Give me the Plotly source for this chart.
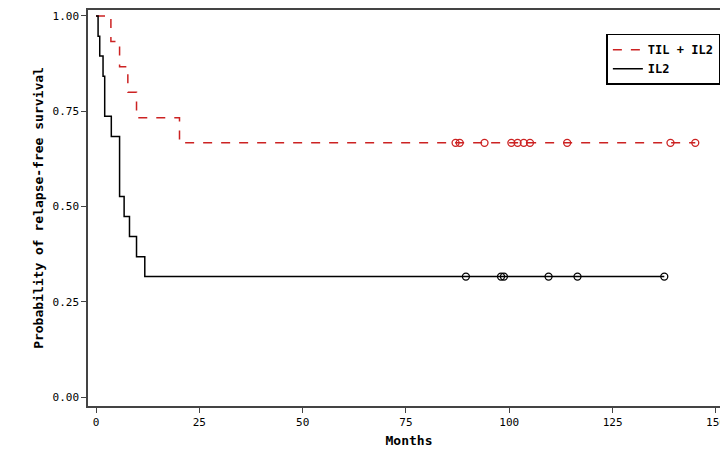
import plotly.graph_objects as go

# TIL + IL2 step curve
til_t = [0, 3.6, 5.7, 7.7, 9.8, 20.2, 145]
til_s = [1.0, 0.933, 0.867, 0.800, 0.733, 0.667, 0.667]
til_cens = [87, 88, 94, 100.5, 102, 103.5, 105, 114, 139, 145]

# IL2 step curve
il2_t = [0, 0.5, 0.9, 1.7, 2.1, 3.7, 5.7, 6.8, 8.1, 9.8, 11.8, 137.5]
il2_s = [1.0, 0.947, 0.895, 0.842, 0.737, 0.684, 0.526, 0.474, 0.421, 0.368, 0.316, 0.316]
il2_cens = [89.5, 98, 98.7, 109.5, 116.5, 137.5]

red = "#cc2222"
fig = go.Figure()
fig.add_trace(go.Scatter(x=til_t, y=til_s, mode="lines", line_shape="hv",
                         line=dict(color=red, dash="dash", width=1.5), name="<b>TIL + IL2</b>"))
fig.add_trace(go.Scatter(x=il2_t, y=il2_s, mode="lines", line_shape="hv",
                         line=dict(color="black", width=1.5), name="<b>IL2</b>"))
fig.add_trace(go.Scatter(x=til_cens, y=[0.667] * len(til_cens), mode="markers", showlegend=False,
                         marker=dict(symbol="circle-open", color=red, size=7, line=dict(width=1.3))))
fig.add_trace(go.Scatter(x=il2_cens, y=[0.316] * len(il2_cens), mode="markers", showlegend=False,
                         marker=dict(symbol="circle-open", color="black", size=7, line=dict(width=1.3))))

axis_common = dict(showgrid=False, zeroline=False, showline=True, linecolor="#444", linewidth=1.5,
                   mirror=True, ticks="outside", ticklen=5, tickcolor="#444", automargin=False)
fig.update_layout(
    width=728, height=452, plot_bgcolor="white", paper_bgcolor="white",
    margin=dict(l=80, r=6, t=2, b=54),
    font=dict(family="DejaVu Sans Mono", size=11, color="black"),
    xaxis=dict(range=[-1.94, 153.4], tickvals=[0, 25, 50, 75, 100, 125, 150],
               title=dict(text="<b>Months</b>", standoff=8), **axis_common),
    yaxis=dict(range=[-0.0236, 1.0157], tickvals=[0, 0.25, 0.5, 0.75, 1.0], tickformat=".2f",
               title=dict(text="<b>Probability of relapse-free survival</b>", standoff=6), **axis_common),
    legend=dict(x=0.985, y=0.94, xanchor="right", yanchor="top", bordercolor="black", borderwidth=1.5,
                bgcolor="white", font=dict(size=12), entrywidth=110),
)
fig.write_html("out.html")
